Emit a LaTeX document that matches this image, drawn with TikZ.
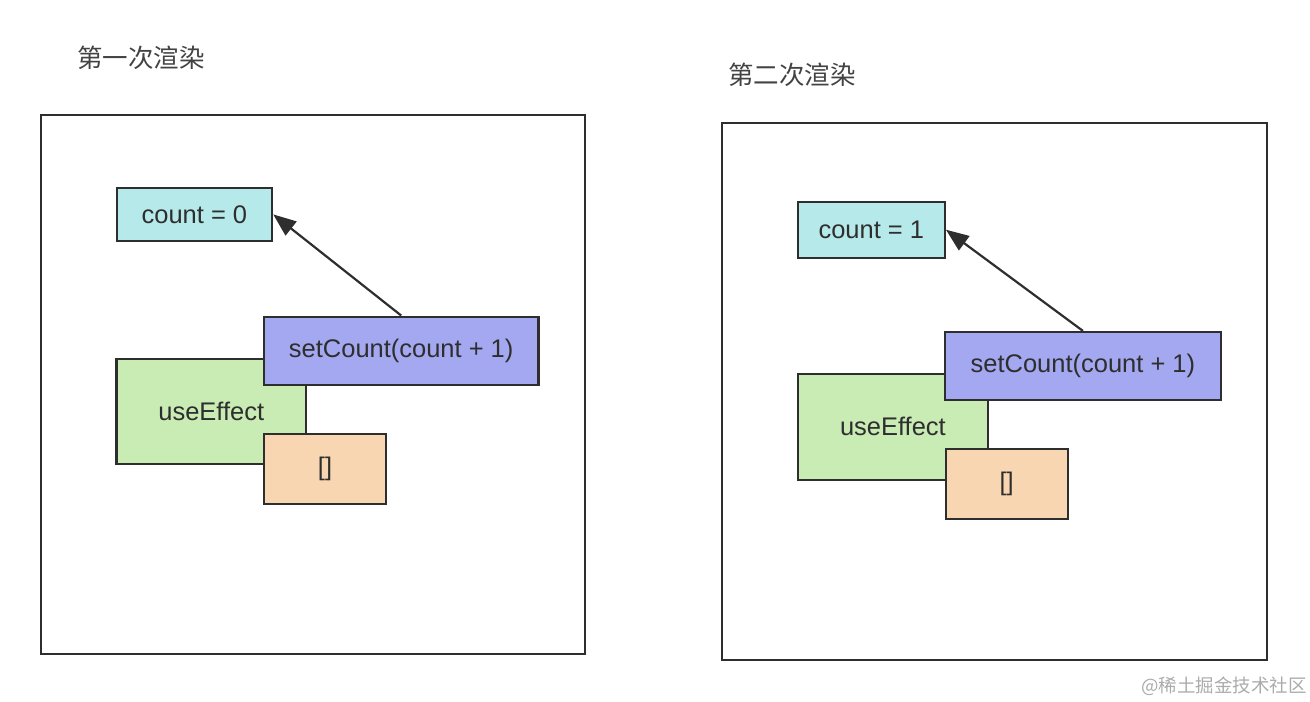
\documentclass[tikz,border=0pt]{standalone}
\usepackage{fontspec}
\setmainfont{Liberation Sans}
\newfontfamily\cjk{Noto Sans CJK SC}
\usetikzlibrary{arrows.meta}

\definecolor{edgegray}{HTML}{2E2E2E}
\definecolor{cntfill}{HTML}{B6E9E9}
\definecolor{setfill}{HTML}{A3A8F0}
\definecolor{usefill}{HTML}{C9ECB5}
\definecolor{depfill}{HTML}{F9D6B2}
\definecolor{markgray}{HTML}{ABABAB}

\begin{document}
\begin{tikzpicture}[x=0.02cm, y=-0.02cm,
    every node/.style={inner sep=0pt, text=edgegray},
    box/.style={draw=edgegray, line width=1.25pt, font=\fontsize{14.5}{17}\selectfont},
    cntbox/.style={box, fill=cntfill},
    setbox/.style={box, fill=setfill},
    usebox/.style={box, fill=usefill},
    depbox/.style={box, fill=depfill},
    frame/.style={draw=edgegray, line width=1.25pt},
    title/.style={font=\cjk\fontsize{14.5}{17}\selectfont, text=edgegray!90},
    arrow/.style={draw=edgegray, line width=1.25pt, -{Triangle[length=13pt, width=10pt]}}]
  \useasboundingbox (0,0) rectangle (1310,702);

  % first render
  \node[title] (title1) at (141,58) {第一次渲染};
  \draw[frame] (41,115) rectangle (585,654);
  \node[cntbox, minimum width=3.11cm, minimum height=1.07cm] (cnt1) at (194.4,214.4) {count = 0};
  \node[usebox, minimum width=3.79cm, minimum height=2.11cm] (use1) at (211.3,411.5) {useEffect};
  \node[setbox, minimum width=5.49cm, minimum height=1.37cm] (set1) at (401.2,350.9) {setCount(count + 1)};
  \node[depbox, minimum width=2.44cm, minimum height=1.41cm] (dep1) at (325,468.9) {[]};
  \draw[arrow] (set1.north) -- (cnt1.east);

  % second render
  \node[title] (title2) at (792,74.5) {第二次渲染};
  \draw[frame] (722,123) rectangle (1267,660);
  \node[cntbox, minimum width=2.94cm, minimum height=1.12cm] (cnt2) at (871.3,229.7) {count = 1};
  \node[usebox, minimum width=3.8cm, minimum height=2.13cm] (use2) at (892.9,426.9) {useEffect};
  \node[setbox, minimum width=5.52cm, minimum height=1.36cm] (set2) at (1082.9,366) {setCount(count + 1)};
  \node[depbox, minimum width=2.44cm, minimum height=1.41cm] (dep2) at (1006.7,483.9) {[]};
  \draw[arrow] (set2.north) -- (cnt2.east);

  % watermark
  \node[font=\cjk\fontsize{10.5}{13}\selectfont, text=markgray] (mark) at (1224,686) {@稀土掘金技术社区};
\end{tikzpicture}
\end{document}
